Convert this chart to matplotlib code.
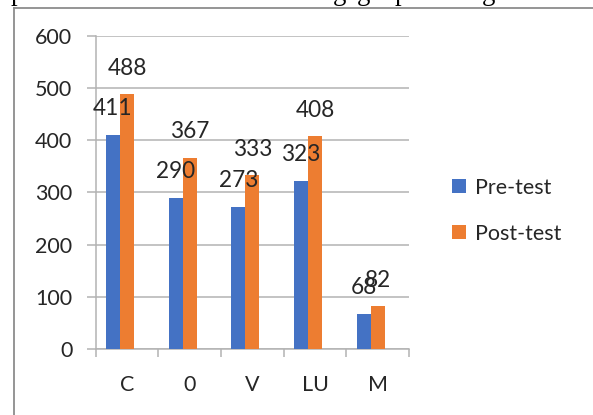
import matplotlib
matplotlib.use("Agg")
import matplotlib.pyplot as plt
from matplotlib.lines import Line2D
import numpy as np

categories = ["C", "0", "V", "LU", "M"]
pre_test = [411, 290, 273, 323, 68]
post_test = [488, 367, 333, 408, 82]
series_names = ["Pre-test", "Post-test"]
yticks = [0, 100, 200, 300, 400, 500, 600]

W, H = 593, 415
DPI = 100
fig = plt.figure(figsize=(W / DPI, H / DPI), dpi=DPI)
fig.patch.set_facecolor("white")

FONT = "Lato"
TXT = "#262626"
GRID = "#b3b3b3"
FS = 15.5

def fx(px):
    return px / W

def fy(py):
    return 1 - py / H

# page frame and cut-off text above
fig.add_artist(Line2D([fx(13.5), fx(13.5)], [0, fy(8)], color="#8c8c8c", lw=1.3))
fig.add_artist(Line2D([fx(13.5), 1], [fy(8), fy(8)], color="#8c8c8c", lw=1.3))
for ch, px in [("p", 11), ("g", 333), ("g", 357), ("p", 395), ("g", 482)]:
    fig.text(fx(px), fy(0.5), ch, fontsize=19.4, family="Liberation Serif",
             color="black", ha="left", va="baseline")

left, right = 95.7, 409.0
top, bottom = 36.0, 349.0
ax = fig.add_axes([fx(left), fy(bottom), fx(right - left), (bottom - top) / H])
ax.set_facecolor("white")

x = np.arange(len(categories))
w = 0.223
b1 = ax.bar(x - w, pre_test, width=w, align="center", color="#4472C4", label=series_names[0], zorder=3)
b2 = ax.bar(x, post_test, width=w, align="center", color="#ED7D31", label=series_names[1], zorder=3)

ax.set_xlim(-0.5, len(categories) - 0.5)
ax.set_ylim(0, 600)
ax.set_yticks(yticks)
ax.set_yticklabels([str(v) for v in yticks])
ax.yaxis.grid(True, color=GRID, lw=1.1, zorder=0)
ax.set_axisbelow(True)

ax.set_xticks(np.arange(len(categories) + 1) - 0.5)
ax.set_xticklabels([])
ax.set_xticks(x, minor=True)
ax.set_xticklabels(categories, minor=True)
ax.tick_params(axis="x", which="major", direction="out", length=6, width=1.1, color=GRID)
ax.tick_params(axis="x", which="minor", length=0, pad=19, labelsize=FS, labelcolor=TXT)
ax.tick_params(axis="y", direction="out", length=6.3, width=1.1, color=GRID, pad=10.5,
               labelsize=FS, labelcolor=TXT)
for lab in ax.get_xticklabels(minor=True) + ax.get_yticklabels():
    lab.set_family(FONT)

for s in ["top", "right"]:
    ax.spines[s].set_visible(False)
for s in ["left", "bottom"]:
    ax.spines[s].set_color(GRID)
    ax.spines[s].set_linewidth(1.1)

for bars, vals in [(b1, pre_test), (b2, post_test)]:
    for rect, v in zip(bars, vals):
        ax.annotate(str(v), (rect.get_x() + rect.get_width() / 2, v),
                    xytext=(0, 14), textcoords="offset points",
                    ha="center", va="baseline", fontsize=FS + 0.8,
                    family=FONT, color=TXT, zorder=5)

leg = fig.legend(handles=[b1, b2], labels=series_names, loc="center left",
                 bbox_to_anchor=(fx(451.7), fy(210.6)), frameon=False,
                 prop={"family": FONT, "size": FS}, handlelength=0.65,
                 handleheight=0.65, handletextpad=0.42, labelspacing=1.2,
                 borderpad=0, borderaxespad=0)
for t in leg.get_texts():
    t.set_color(TXT)

fig.savefig("out.png", dpi=DPI)
